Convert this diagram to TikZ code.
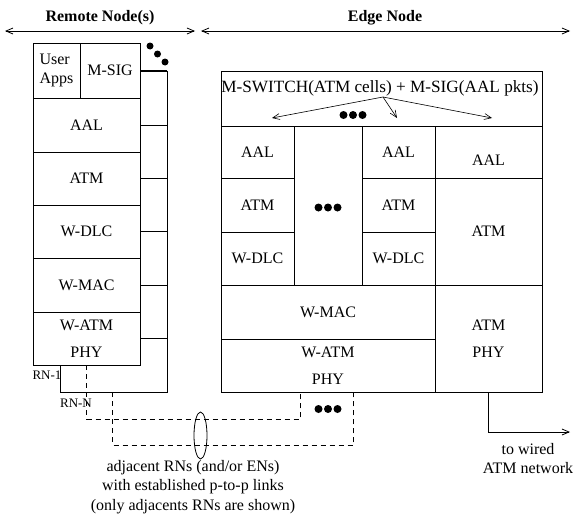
\documentclass[tikz,border=0pt]{standalone}
\usepackage{fontspec}
\setmainfont{Liberation Serif}
\usetikzlibrary{arrows.meta,calc,shapes.geometric}
\begin{document}
\begin{tikzpicture}[x=1pt,y=-1pt,line width=0.8pt,
  txt/.style={font=\fontsize{16}{19.5}\selectfont,inner sep=0pt,align=center},
  cell/.style={draw,fill=white,inner sep=0pt,align=center,font=\fontsize{16}{19.5}\selectfont},
  phycell/.style={cell,font=\fontsize{16}{27}\selectfont},
  tip/.style={-{Straight Barb[length=7pt,width=6pt]}},
  dtip/.style={{Straight Barb[length=7pt,width=6pt]}-{Straight Barb[length=7pt,width=6pt]}},
  lnk/.style={dash pattern=on 5pt off 4pt},
  dot/.style={circle,fill=black,inner sep=0pt,minimum size=7.5pt}]
\path (0,0) rectangle (574,514);
% titles
\node[txt,font=\fontsize{16}{19}\selectfont\bfseries] (trn) at (100,18) {Remote Node(s)};
\node[txt,font=\fontsize{16}{19}\selectfont\bfseries] (ten) at (385,18) {Edge Node};
\coordinate (a1) at (5,31); \coordinate (a2) at (195,31);
\coordinate (b1) at (201,31); \coordinate (b2) at (570,31);
\draw[dtip] (a1) -- (a2);
\draw[dtip] (b1) -- (b2);
% remote node stack (back copy)
\node[draw,minimum width=107pt,minimum height=321pt,inner sep=0pt] (rnback) at (113.5,231.5) {};
% front stack
\node[cell,minimum width=47pt,minimum height=55pt,align=left] (uapps) at (56.5,70.5) {User\\Apps};
\node[cell,minimum width=60pt,minimum height=55pt] (msig) at (110,70.5) {M-SIG};
\node[cell,minimum width=107pt,minimum height=54pt] (aal1) at (86.5,125) {AAL};
\node[cell,minimum width=107pt,minimum height=53pt] (atm1) at (86.5,178.5) {ATM};
\node[cell,minimum width=107pt,minimum height=53pt] (wdlc1) at (86.5,231.5) {W-DLC};
\node[cell,minimum width=107pt,minimum height=54pt] (wmac1) at (86.5,285) {W-MAC};
\node[phycell,minimum width=107pt,minimum height=53pt] (phy1) at (86.5,338.5) {W-ATM\\PHY};
\foreach \n in {msig,aal1,atm1,wdlc1,wmac1,phy1}
  \draw (\n.east) -- (\n.east -| rnback.east);
\node[dot,minimum size=7pt] (d1) at (150,46) {};
\node[dot,minimum size=7pt] (d2) at (157.5,54) {};
\node[dot,minimum size=7pt] (d3) at (165,62) {};
\node[txt,font=\fontsize{13}{15}\selectfont] (rn1) at (47,375) {RN-1};
\node[txt,font=\fontsize{13}{15}\selectfont] (rnn) at (76,403) {RN-N};
% edge node
\node[cell,minimum width=321pt,minimum height=55pt] (hdr) at (381.5,98.5) {};
\node[txt,font=\fontsize{17.2}{19}\selectfont] (hdrt) at (380,88) {M-SWITCH(ATM cells) + M-SIG(AAL pkts)};
\node[cell,minimum width=73pt,minimum height=52pt] (aal2) at (257.5,152) {AAL};
\node[cell,minimum width=73pt,minimum height=54pt] (atm2) at (257.5,205) {ATM};
\node[cell,minimum width=73pt,minimum height=53pt] (wdlc2) at (257.5,258.5) {W-DLC};
\node[cell,minimum width=68pt,minimum height=159pt] (mid) at (328,205.5) {};
\node[cell,minimum width=73pt,minimum height=52pt] (aal3) at (398.5,152) {AAL};
\node[cell,minimum width=73pt,minimum height=54pt] (atm3) at (398.5,205) {ATM};
\node[cell,minimum width=73pt,minimum height=53pt] (wdlc3) at (398.5,258.5) {W-DLC};
\node[cell,minimum width=107pt,minimum height=52pt] (aal4) at (488.5,152) {};
\node[txt] (aal4t) at (488.5,160) {AAL};
\node[cell,minimum width=107pt,minimum height=107pt] (atm4) at (488.5,231.5) {ATM};
\node[phycell,minimum width=107pt,minimum height=107pt] (atmphy) at (488.5,338.5) {ATM\\PHY};
\node[cell,minimum width=214pt,minimum height=54pt] (wmac2) at (328,312) {W-MAC};
\node[phycell,minimum width=214pt,minimum height=53pt] (phy2) at (328,365.5) {W-ATM\\PHY};
\foreach \x in {-9.5,0,9.5} \fill ($(mid.center)+(\x,2)$) circle (4);
% header arrows
\coordinate (hs) at (383,97);
\coordinate (h1) at (272,118); \coordinate (h2) at (397,118); \coordinate (h3) at (492,118);
\draw[tip,line width=0.6pt] (hs) -- (h1);
\draw[tip,line width=0.6pt] (hs) -- (h2);
\draw[tip,line width=0.6pt] (hs) -- (h3);
\foreach \x in {-9.5,0,9.5} \fill (353+\x,115) circle (4);
% links
\coordinate (l1s) at ($(phy1.south west)+(54,0)$);
\coordinate (l1e) at ($(phy2.south west)+(80,0)$);
\coordinate (l2s) at ($(rnback.south west)+(53,0)$);
\coordinate (l2e) at ($(phy2.south west)+(133,0)$);
\draw[lnk] (l1s) -- ++(0,54) -| (l1e);
\draw[lnk] (l2s) -- ++(0,53) -| (l2e);
\node[draw,ellipse,minimum width=13pt,minimum height=47pt,inner sep=0pt] (ell) at (200.5,435.5) {};
\foreach \x in {-9.5,0,9.5} \fill (328+\x,409) circle (4);
\node[txt] (cap) at (193,487) {adjacent RNs (and/or ENs)\\with established p-to-p links\\(only adjacents RNs are shown)};
% wired
\coordinate (ws) at ($(atmphy.south west)+(54,0)$);
\coordinate (we) at (570,432);
\draw[tip] (ws) |- (we);
\node[txt] (wired) at (528,458.5) {to wired\\ATM network};
\end{tikzpicture}
\end{document}
